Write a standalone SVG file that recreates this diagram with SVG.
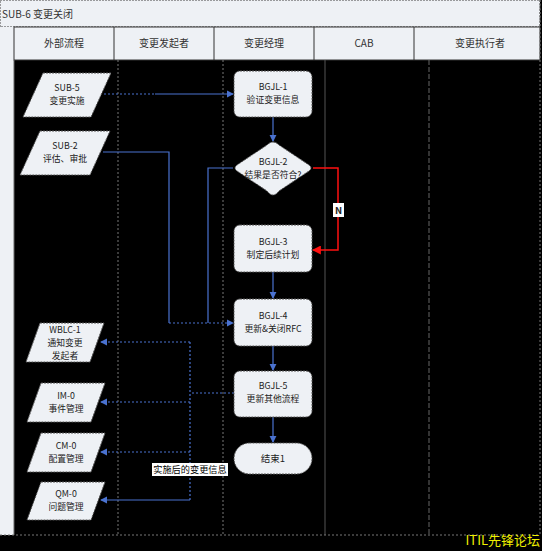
<svg xmlns="http://www.w3.org/2000/svg" width="542" height="551" viewBox="0 0 542 551">
<defs>
<style>
.t{font-family:"Noto Sans CJK SC","Liberation Sans",sans-serif;font-size:8.8px;fill:#222;text-anchor:middle}
.h{font-family:"Noto Sans CJK SC","Liberation Sans",sans-serif;font-size:10px;fill:#333;text-anchor:middle}
.node{fill:#eef1f5;stroke:#555;stroke-width:1;stroke-dasharray:2 1;stroke-linejoin:round}
.lane{stroke:#777;stroke-width:1;stroke-dasharray:2 2}
.c{fill:none;stroke:#4a72d0;stroke-width:1.2}
.cd{fill:none;stroke:#4a72d0;stroke-width:1.2;stroke-dasharray:2 2}
.r{fill:none;stroke:#ff1010;stroke-width:1.5}
</style>
<marker id="a" viewBox="0 0 8 8" refX="7" refY="4" markerWidth="6" markerHeight="6" orient="auto"><path d="M0,0 L8,4 L0,8 z" fill="#4a72d0"/></marker>
<marker id="ar" viewBox="0 0 8 8" refX="7" refY="4" markerWidth="6" markerHeight="6" orient="auto"><path d="M0,0 L8,4 L0,8 z" fill="#ff1010"/></marker>
</defs>
<rect x="0" y="0" width="542" height="551" fill="#000"/>
<g id="frame">
<rect x="0" y="0" width="540" height="27" fill="#eef1f5" stroke="#444" stroke-dasharray="2 1"/>
<text x="2" y="18" class="h" style="text-anchor:start">SUB-6 变更关闭</text>
<rect x="0" y="27" width="14" height="508" fill="#eef1f5"/>
<rect x="14" y="27" width="526" height="33" fill="#eef1f5" stroke="#333"/>
<line x1="114" y1="27" x2="114" y2="60" stroke="#333"/>
<line x1="214" y1="27" x2="214" y2="60" stroke="#333"/>
<line x1="314" y1="27" x2="314" y2="60" stroke="#333"/>
<line x1="414" y1="27" x2="414" y2="60" stroke="#333"/>
<text x="64" y="47" class="h">外部流程</text>
<text x="164" y="47" class="h">变更发起者</text>
<text x="264" y="47" class="h">变更经理</text>
<text x="364" y="47" class="h">CAB</text>
<text x="480" y="47" class="h">变更执行者</text>
<line x1="14" y1="60" x2="14" y2="535" stroke="#666"/>
<line x1="118" y1="60" x2="118" y2="535" class="lane"/>
<line x1="223" y1="60" x2="223" y2="535" class="lane"/>
<line x1="325" y1="60" x2="325" y2="535" stroke="#555" stroke-width="1"/>
<line x1="429" y1="60" x2="429" y2="535" stroke="#666" stroke-dasharray="5 2"/>
<line x1="540" y1="0" x2="540" y2="535" class="lane"/>
<line x1="0" y1="535" x2="540" y2="535" class="lane"/>
</g>
<g id="connectors">
<line x1="104" y1="94" x2="155" y2="94" class="cd" stroke-width="2"/>
<line x1="155" y1="94" x2="233" y2="94" class="c" marker-end="url(#a)"/>
<path d="M103,152 H169 V323" class="c"/>
<path d="M233,168 H208 V323" class="c"/>
<path d="M169,323 H233" class="cd" stroke-width="1.6" marker-end="url(#a)"/>
<line x1="273" y1="117" x2="273" y2="141" class="c" marker-end="url(#a)"/>
<path d="M313,168 H338 V250 H313" class="r" marker-end="url(#ar)"/>
<line x1="273" y1="272" x2="273" y2="298" class="c" marker-end="url(#a)"/>
<line x1="273" y1="346" x2="273" y2="370" class="c" marker-end="url(#a)"/>
<line x1="273" y1="417" x2="273" y2="442" class="c" marker-end="url(#a)"/>
<path d="M234,393 H190" class="cd"/>
<path d="M190,342 V500" class="cd"/>
<path d="M190,342 H101" class="cd" marker-end="url(#a)"/>
<path d="M190,402 H101" class="cd" marker-end="url(#a)"/>
<path d="M190,452 H101" class="cd" marker-end="url(#a)"/>
<path d="M190,500 H101" class="c" marker-end="url(#a)"/>
<rect x="333" y="203" width="11" height="14" fill="#fff"/>
<text x="338.5" y="214" class="t" style="font-weight:bold;font-size:9.5px">N</text>
<rect x="152" y="463" width="76" height="13" fill="#fff"/>
<text x="190" y="473" class="t" style="fill:#000;font-size:9.2px">实施后的变更信息</text>
</g>
<g id="SUB-5">
<polygon points="43,73 111,73 91,117 23,117" class="node"/>
<text x="67" y="91" class="t">SUB-5</text>
<text x="67" y="104" class="t">变更实施</text>
</g>
<g id="SUB-2">
<polygon points="40,131 110,131 90,175 20,175" class="node"/>
<text x="65" y="149" class="t">SUB-2</text>
<text x="65" y="162" class="t">评估、审批</text>
</g>
<g id="WBLC-1">
<polygon points="40,323 104,323 90,362 26,362" class="node"/>
<text x="65" y="333" class="t">WBLC-1</text>
<text x="65" y="346" class="t">通知变更</text>
<text x="65" y="359" class="t">发起者</text>
</g>
<g id="IM-0">
<polygon points="41,383 105,383 91,422 27,422" class="node"/>
<text x="66" y="399" class="t">IM-0</text>
<text x="66" y="412" class="t">事件管理</text>
</g>
<g id="CM-0">
<polygon points="41,433 105,433 91,472 27,472" class="node"/>
<text x="66" y="449" class="t">CM-0</text>
<text x="66" y="462" class="t">配置管理</text>
</g>
<g id="QM-0">
<polygon points="41,482 105,482 91,520 27,520" class="node"/>
<text x="66" y="497" class="t">QM-0</text>
<text x="66" y="510" class="t">问题管理</text>
</g>
<g id="BGJL-1">
<rect x="234" y="71" width="78" height="46" rx="6" class="node"/>
<text x="273" y="90" class="t">BGJL-1</text>
<text x="273" y="103" class="t">验证变更信息</text>
</g>
<g id="BGJL-2">
<path d="M273,142 Q276,142 279,145 L309,165 Q313,168 309,171 L279,191 Q276,195 273,195 Q270,195 267,191 L237,171 Q233,168 237,165 L267,145 Q270,142 273,142 z" class="node"/>
<text x="273" y="165" class="t">BGJL-2</text>
<text x="273" y="178" class="t">结果是否符合?</text>
</g>
<g id="BGJL-3">
<rect x="234" y="225" width="78" height="47" rx="6" class="node"/>
<text x="273" y="245" class="t">BGJL-3</text>
<text x="273" y="258" class="t">制定后续计划</text>
</g>
<g id="BGJL-4">
<rect x="234" y="299" width="78" height="47" rx="6" class="node"/>
<text x="273" y="319" class="t">BGJL-4</text>
<text x="273" y="332" class="t">更新&amp;关闭RFC</text>
</g>
<g id="BGJL-5">
<rect x="234" y="371" width="78" height="46" rx="6" class="node"/>
<text x="273" y="389" class="t">BGJL-5</text>
<text x="273" y="402" class="t">更新其他流程</text>
</g>
<g id="end1">
<rect x="234" y="443" width="78" height="31" rx="15.5" class="node"/>
<text x="273" y="462" class="t" style="font-size:9.5px">结束1</text>
</g>
<text x="540" y="545" style="font-family:'Noto Sans CJK SC','Liberation Sans',sans-serif;font-size:13px;fill:#f0f000;text-anchor:end">ITIL先锋论坛</text>
</svg>
